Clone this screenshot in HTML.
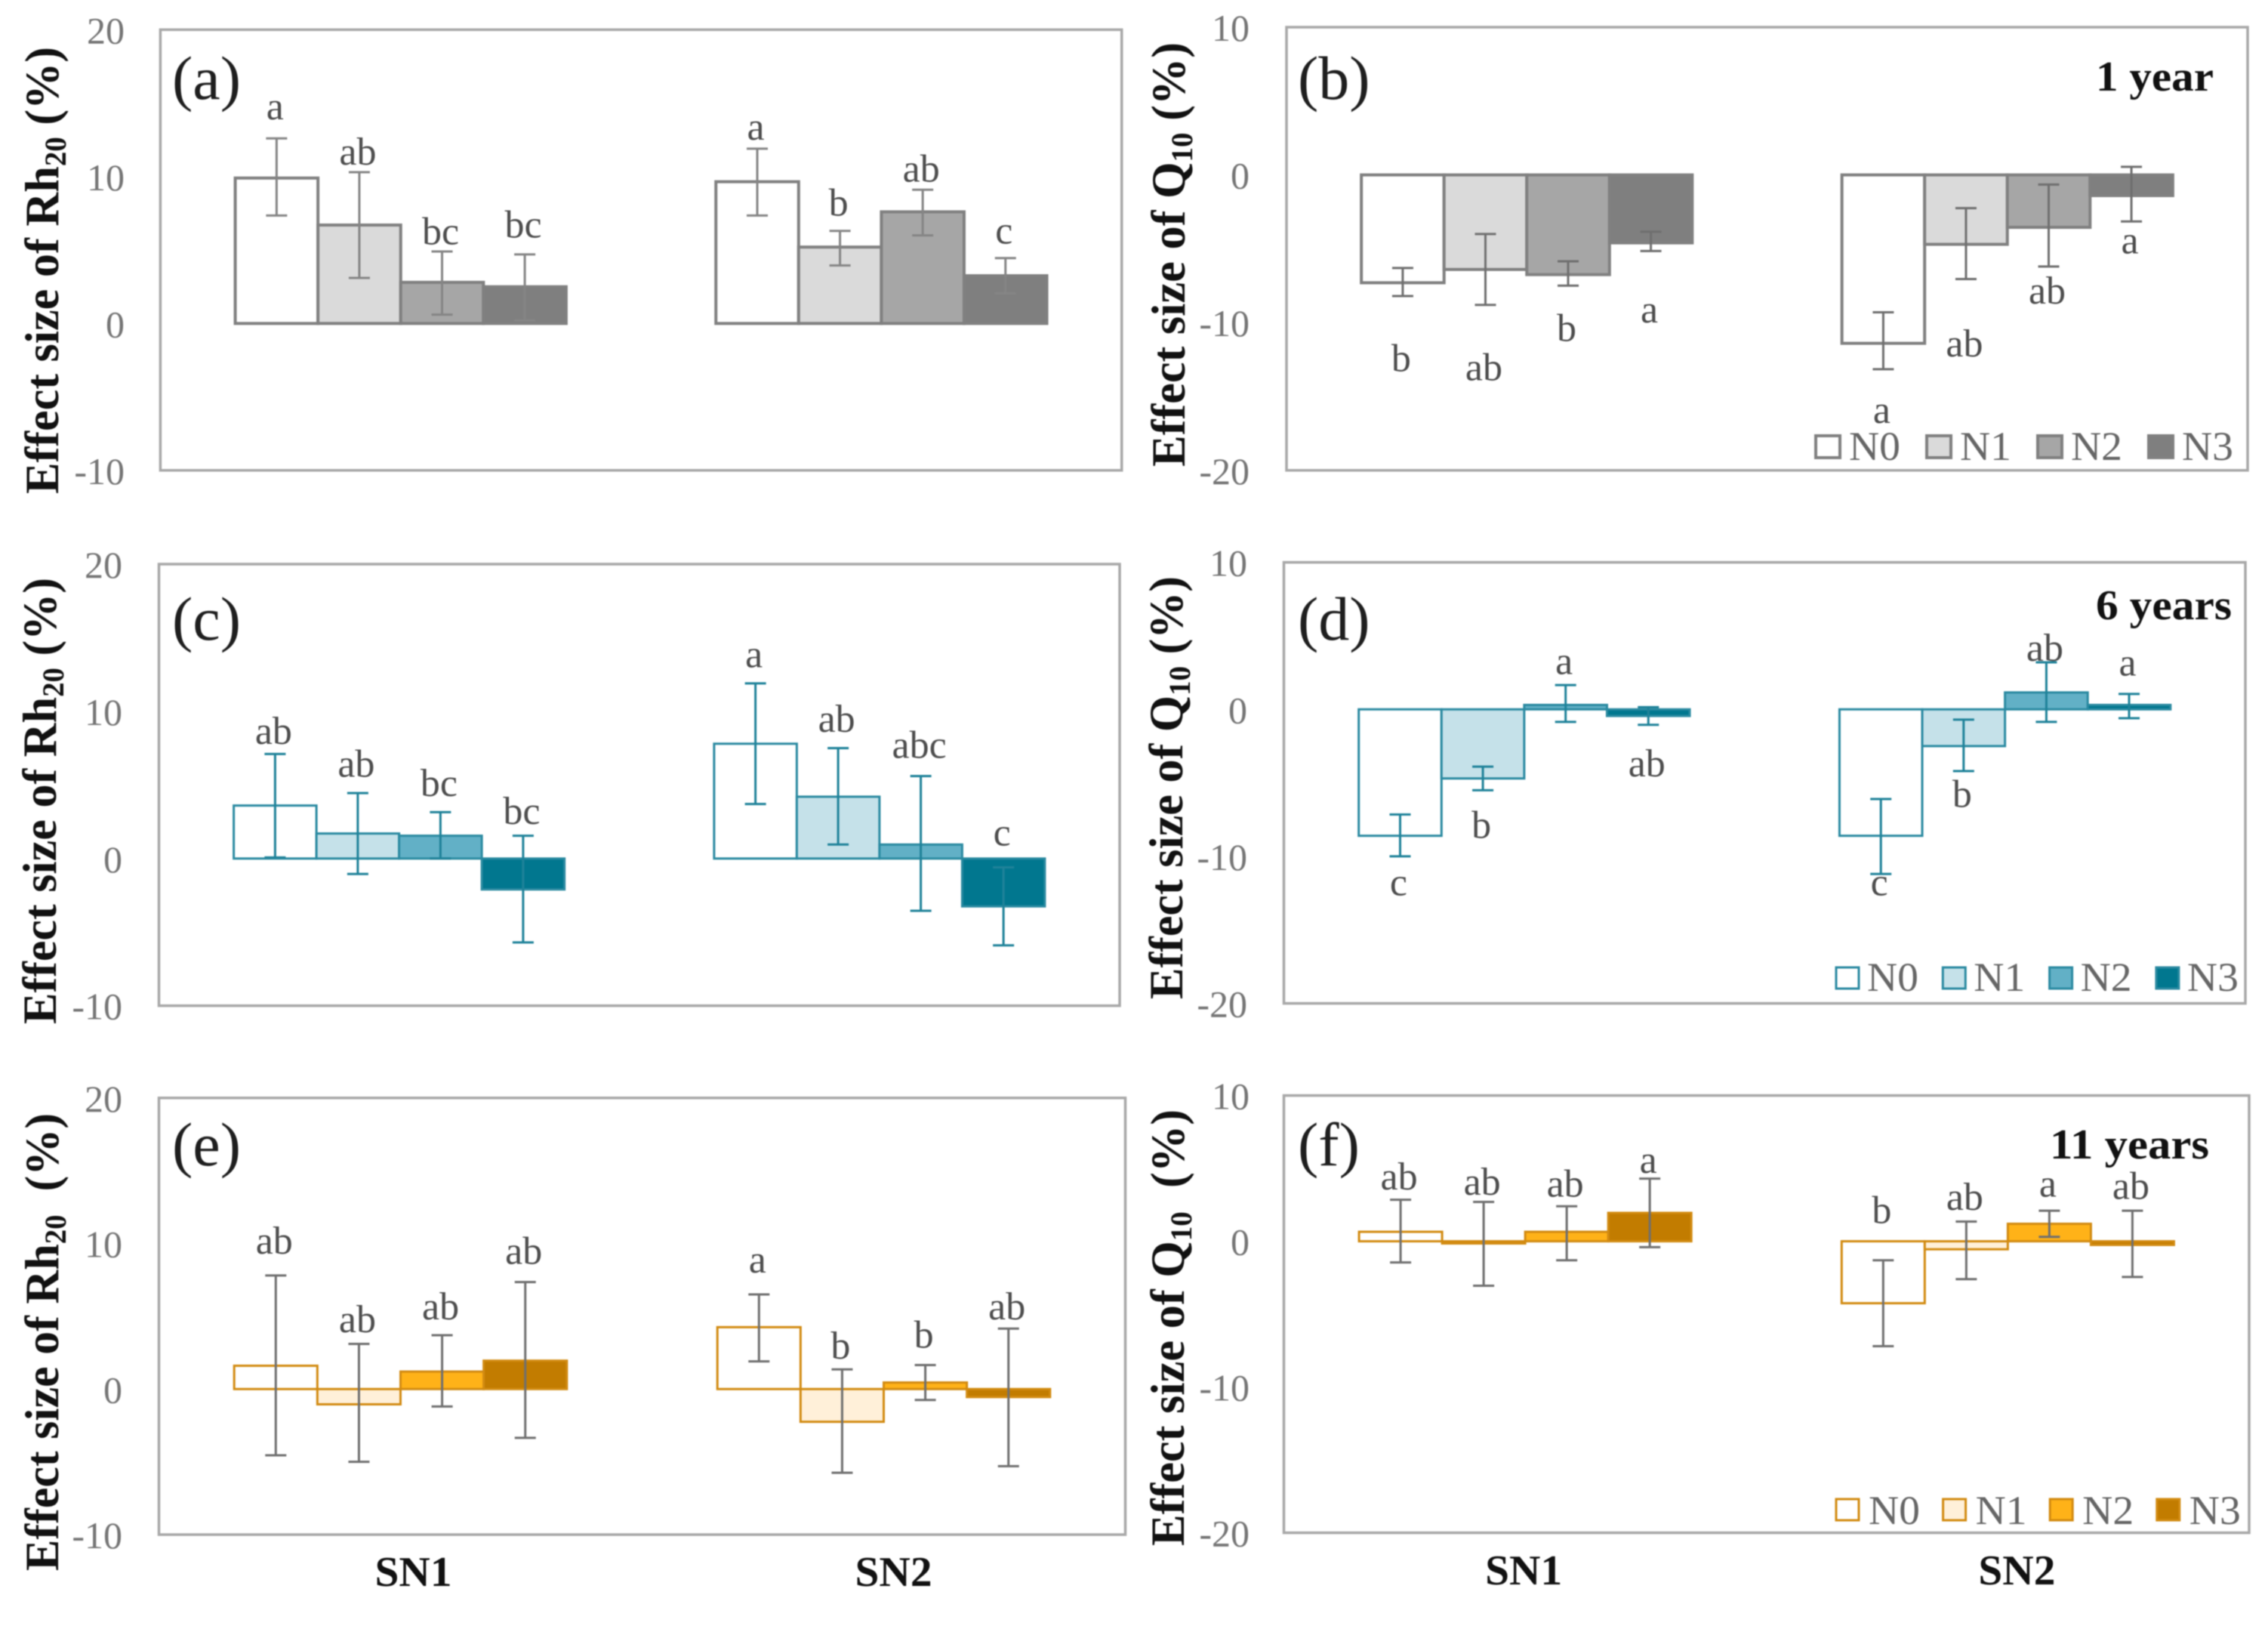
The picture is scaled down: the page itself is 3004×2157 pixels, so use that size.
<!DOCTYPE html>
<html lang="en">
<head>
<meta charset="utf-8">
<title>Effect size of Rh20 and Q10 by nitrogen level</title>
<style>
html,body{margin:0;padding:0;background:#fff;}
svg{display:block;filter:blur(0.8px);}
text{font-family:"Liberation Serif",serif;}
</style>
</head>
<body>
<svg id="figure" xmlns="http://www.w3.org/2000/svg" width="3004" height="2157" viewBox="0 0 3004 2157"></svg>
<script>
// Shared categories and series
const categories = ['SN1', 'SN2'];
const seriesNames = ['N0', 'N1', 'N2', 'N3'];
const rhTicks = [-10, 0, 10, 20];
const q10Ticks = [-20, -10, 0, 10];

// Panel (a) Rh20, 1 year
const aValues = [[9.9, 6.7, 2.8, 2.5], [9.65, 5.2, 7.6, 3.25]];
const aUpper = [[12.6, 10.3, 4.9, 4.7], [11.9, 6.3, 9.1, 4.45]];
const aLower = [[7.35, 3.1, 0.6, 0.2], [7.35, 3.95, 6.0, 2.05]];
const aLetters = [['a', 'ab', 'bc', 'bc'], ['a', 'b', 'ab', 'c']];
const aLetterAt = [[13.9, 10.8, 5.4, 5.85], [12.5, 7.35, 9.65, 5.45]];

// Panel (b) Q10, 1 year
const bValues = [[-7.3, -6.4, -6.75, -4.6], [-11.4, -4.7, -3.55, -1.4]];
const bUpper = [[-6.3, -4.0, -5.85, -3.85], [-9.3, -2.25, -0.65, 0.55]];
const bLower = [[-8.2, -8.8, -7.5, -5.15], [-13.15, -7.05, -6.2, -3.15]];
const bLetters = [['b', 'ab', 'b', 'a'], ['a', 'ab', 'ab', 'a']];
const bLetterAt = [[-13.3, -13.9, -11.25, -10], [-16.8, -12.3, -8.7, -5.3]];

// Panel (c) Rh20, 6 years
const cValues = [[3.6, 1.7, 1.55, -2.1], [7.8, 4.2, 0.95, -3.25]];
const cUpper = [[7.1, 4.45, 3.15, 1.55], [11.9, 7.5, 5.6, -0.6]];
const cLower = [[0.07, -1.05, 0, -5.7], [3.7, 0.95, -3.55, -5.9]];
const cLetters = [['ab', 'ab', 'bc', 'bc'], ['a', 'ab', 'abc', 'c']];
const cLetterAt = [[7.8, 5.55, 4.25, 2.35], [13, 8.6, 6.85, 0.9]];

// Panel (d) Q10, 6 years
const dValues = [[-8.6, -4.7, 0.3, -0.45], [-8.6, -2.5, 1.15, 0.3]];
const dUpper = [[-7.15, -3.9, 1.65, 0.15], [-6.1, -0.7, 3.2, 1.05]];
const dLower = [[-10.0, -5.5, -0.85, -1.05], [-11.2, -4.2, -0.85, -0.6]];
const dLetters = [['c', 'b', 'a', 'ab'], ['c', 'b', 'ab', 'a']];
const dLetterAt = [[-12.65, -8.75, 2.4, -4.55], [-12.65, -6.65, 3.3, 2.3]];

// Panel (e) Rh20, 11 years
const eValues = [[1.6, -1.05, 1.2, 1.95], [4.25, -2.25, 0.45, -0.55]];
const eUpper = [[7.8, 3.1, 3.7, 7.35], [6.5, 1.35, 1.65, 4.15]];
const eLower = [[-4.55, -5.0, -1.2, -3.35], [1.9, -5.75, -0.75, -5.3]];
const eLetters = [['ab', 'ab', 'ab', 'ab'], ['a', 'b', 'b', 'ab']];
const eLetterAt = [[9.3, 3.9, 4.8, 8.6], [8, 2.1, 2.85, 4.8]];

// Panel (f) Q10, 11 years
const fValues = [[0.65, -0.15, 0.65, 1.95], [-4.25, -0.55, 1.2, -0.25]];
const fUpper = [[2.85, 2.7, 2.4, 4.3], [-1.3, 1.35, 2.1, 2.1]];
const fLower = [[-1.45, -3.05, -1.3, -0.4], [-7.2, -2.6, 0.3, -2.45]];
const fLetters = [['ab', 'ab', 'ab', 'a'], ['b', 'ab', 'a', 'ab']];
const fLetterAt = [[3.55, 3.2, 3.05, 4.7], [1.25, 2.15, 3.05, 2.9]];

const greyFills = ['#ffffff', '#dadada', '#a6a6a6', '#7f7f7f'];
const tealFills = ['#ffffff', '#c5e1e9', '#62b0c6', '#01778f'];
const amberFills = ['#ffffff', '#fff0d9', '#ffb218', '#c27c00'];

const svg = document.getElementById('figure');
const NS = 'http://www.w3.org/2000/svg';

function make(tag, attrs, parent, content) {
  const node = document.createElementNS(NS, tag);
  for (const key in attrs) node.setAttribute(key, attrs[key]);
  if (content !== undefined) node.textContent = content;
  parent.appendChild(node);
  return node;
}

function drawPanel(p) {
  const g = make('g', {}, svg);
  
  

  const [x0, y0, x1, y1] = p.frame;
  const yMin = p.ticks[0];
  const yMax = p.ticks[p.ticks.length - 1];
  const yScale = v => y0 + (yMax - v) / (yMax - yMin) * (y1 - y0);
  const catWidth = (x1 - x0) / categories.length;
  const barWidth = catWidth / 5.81;
  const barX = (c, s) => x0 + c * catWidth + 0.905 * barWidth + s * barWidth;
  const zeroY = yScale(0);

  const frame = make('rect', {x: x0, y: y0, width: x1 - x0, height: y1 - y0, fill: '#fff', stroke: '#a8a8a8', 'stroke-width': 3.5}, g);
  
  

  p.ticks.forEach(t => {
    const tick = make('text', {x: p.tickX, y: yScale(t) + 18, 'text-anchor': 'end', 'font-size': 50, fill: '#757575'}, g, String(t));
    
    
  });

  // bars
  categories.forEach((cat, c) => {
    seriesNames.forEach((s, i) => {
      const v = p.values[c][i];
      const top = Math.min(yScale(v), zeroY);
      const h = Math.abs(yScale(v) - zeroY);
      const bar = make('rect', {x: barX(c, i), y: top, width: barWidth, height: h, fill: p.fills[i], stroke: p.stroke, 'stroke-width': p.strokeWidth}, g);
      
      
    });
  });

  // error bars and significance letters
  categories.forEach((cat, c) => {
    seriesNames.forEach((s, i) => {
      const cx = barX(c, i) + barWidth / 2;
      const yu = yScale(p.upper[c][i]);
      const yl = yScale(p.lower[c][i]);
      const err = make('path', {d: 'M' + cx + ' ' + yu + 'V' + yl + 'M' + (cx - 14) + ' ' + yu + 'H' + (cx + 14) + 'M' + (cx - 14) + ' ' + yl + 'H' + (cx + 14), fill: 'none', stroke: p.errColor, 'stroke-width': 3}, g);
      
      

      const letter = make('text', {x: cx - 2, y: yScale(p.letterAt[c][i]), 'text-anchor': 'middle', 'font-size': 52, fill: '#4d4d4d'}, g, p.letters[c][i]);
      
      
    });
  });

  const tag = make('text', {x: p.tagX, y: p.tagY, 'font-size': 82, fill: '#1e1e1e'}, g, '(' + p.id + ')');
  
  

  // y-axis title
  const title = make('text', {transform: 'translate(' + p.titleX + ' ' + p.titleBottom + ') rotate(-90)', 'font-size': 64, 'font-weight': 'bold', fill: '#111', textLength: p.titleLength, lengthAdjust: 'spacingAndGlyphs', 'xml:space': 'preserve', style: 'white-space:pre'}, g);
  
  
  make('tspan', {}, title, 'Effect size of ' + p.measure);
  make('tspan', {dy: 10, 'font-size': 40}, title, p.sub);
  make('tspan', {dy: -10}, title, p.gap + '(%)');

  if (p.duration) {
    const dur = make('text', {x: p.duration.x, y: p.duration.y, 'font-size': 56, 'font-weight': 'bold', fill: '#111', textLength: p.duration.len, lengthAdjust: 'spacingAndGlyphs', style: 'white-space:pre'}, g, p.duration.text);
    
    
  }

  if (p.legend) {
    const lg = make('g', {}, g);
    
    
    seriesNames.forEach((s, i) => {
      const lx = p.legend.x + i * p.legend.step;
      const swatch = make('rect', {x: lx, y: p.legend.y, width: p.legend.w, height: p.legend.h, fill: p.fills[i], stroke: p.stroke, 'stroke-width': p.strokeWidth}, lg);
      
      
      const lt = make('text', {x: lx + p.legend.w + p.legend.pad, y: p.legend.base, 'font-size': 54, fill: '#666', textLength: 68, lengthAdjust: 'spacingAndGlyphs'}, lg, s);
      
      
    });
  }

  if (p.catBase) {
    categories.forEach((cat, c) => {
      const cl = make('text', {x: x0 + (c + 0.5) * catWidth + p.catShift[c], y: p.catBase, 'text-anchor': 'middle', 'font-size': 56, 'font-weight': 'bold', fill: '#111', textLength: 102, lengthAdjust: 'spacingAndGlyphs'}, g, cat);
      
      
    });
  }
}

drawPanel({id: 'a', frame: [212.4, 39.3, 1485.7, 622.8], ticks: rhTicks, values: aValues, upper: aUpper, lower: aLower, letters: aLetters, letterAt: aLetterAt,
  fills: greyFills, stroke: '#808080', strokeWidth: 4, errColor: '#858585', tickX: 165, tagX: 228, tagY: 131,
  titleX: 77, titleBottom: 654, titleLength: 592, measure: 'Rh', sub: '20', gap: ' '});
drawPanel({id: 'b', frame: [1704, 36, 2977, 622.8], ticks: q10Ticks, values: bValues, upper: bUpper, lower: bLower, letters: bLetters, letterAt: bLetterAt,
  fills: greyFills, stroke: '#808080', strokeWidth: 4, errColor: '#6f6f6f', tickX: 1655, tagX: 1719, tagY: 131,
  titleX: 1569, titleBottom: 618, titleLength: 562, measure: 'Q', sub: '10', gap: ' ',
  duration: {text: '1 year', x: 2776, y: 120, len: 156},
  legend: {x: 2405, y: 577, w: 32, h: 29, step: 147, pad: 12, base: 609}});
drawPanel({id: 'c', frame: [210.5, 747, 1483, 1331.7], ticks: rhTicks, values: cValues, upper: cUpper, lower: cLower, letters: cLetters, letterAt: cLetterAt,
  fills: tealFills, stroke: '#2b8aa1', strokeWidth: 3, errColor: '#1f8299', tickX: 162, tagX: 228, tagY: 847,
  titleX: 74, titleBottom: 1356, titleLength: 591, measure: 'Rh', sub: '20', gap: ' '});
drawPanel({id: 'd', frame: [1700.5, 744.6, 2974, 1328.6], ticks: q10Ticks, values: dValues, upper: dUpper, lower: dLower, letters: dLetters, letterAt: dLetterAt,
  fills: tealFills, stroke: '#2b8aa1', strokeWidth: 3, errColor: '#1f8299', tickX: 1652, tagX: 1719, tagY: 847,
  titleX: 1566, titleBottom: 1323, titleLength: 560, measure: 'Q', sub: '10', gap: ' ',
  duration: {text: '6 years', x: 2776, y: 820, len: 180},
  legend: {x: 2432, y: 1281, w: 30, h: 28, step: 141.3, pad: 11, base: 1312}});
drawPanel({id: 'e', frame: [210.5, 1453.8, 1490.5, 2032], ticks: rhTicks, values: eValues, upper: eUpper, lower: eLower, letters: eLetters, letterAt: eLetterAt,
  fills: amberFills, stroke: '#d28b12', strokeWidth: 3, errColor: '#6f6f6f', tickX: 162, tagX: 228, tagY: 1543,
  titleX: 77, titleBottom: 2080, titleLength: 606, measure: 'Rh', sub: '20', gap: '  ',
  catBase: 2100, catShift: [17, 13]});
drawPanel({id: 'f', frame: [1700.5, 1450.6, 2979, 2029.6], ticks: q10Ticks, values: fValues, upper: fUpper, lower: fLower, letters: fLetters, letterAt: fLetterAt,
  fills: amberFills, stroke: '#d28b12', strokeWidth: 3, errColor: '#6f6f6f', tickX: 1655, tagX: 1719, tagY: 1543,
  titleX: 1568, titleBottom: 2047, titleLength: 578, measure: 'Q', sub: '10', gap: '  ',
  duration: {text: '11 years', x: 2715, y: 1534, len: 211},
  legend: {x: 2432, y: 1985, w: 30, h: 28, step: 141.6, pad: 13, base: 2018},
  catBase: 2098, catShift: [-2, 12]});
</script>
</body>
</html>
